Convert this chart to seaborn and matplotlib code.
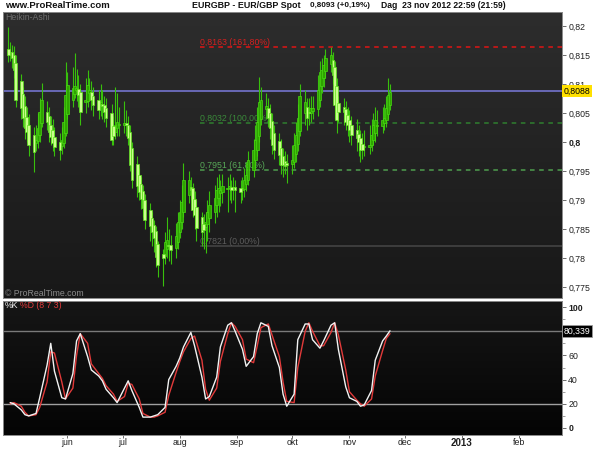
import numpy as np
import pandas as pd
import matplotlib
matplotlib.use("Agg")
import matplotlib.pyplot as plt
import matplotlib.dates as mdates
from matplotlib.colors import LinearSegmentedColormap
from matplotlib.ticker import FixedLocator, FuncFormatter
import seaborn as sns

sns.set_style("dark")
plt.rcParams["font.family"] = ["Liberation Sans", "DejaVu Sans"]

# ---------------- data ----------------
start_date = "2012-04-30"
end_date = "2012-11-23"

# Heikin-Ashi candles, EUR/GBP in pips (price * 10000)
ha_open = [8160, 8155, 8155, 8150, 8137, 8105, 8082, 8062, 8043, 8030,
           8012, 7998, 8001, 8012, 8032, 8052, 8044, 8030, 8020, 8009,
           8000, 7993, 7998, 8016, 8048, 8073, 8083, 8090, 8092, 8086,
           8069, 8071, 8084, 8087, 8080, 8072, 8064, 8066, 8064, 8058,
           8050, 8027, 8018, 8024, 8030, 8030, 8032, 8030, 8018, 7989,
           7962, 7943, 7928, 7915, 7900, 7883, 7869, 7857, 7846, 7824,
           7806, 7803, 7815, 7823, 7822, 7818, 7828, 7845, 7862, 7880,
           7908, 7922, 7920, 7902, 7888, 7870, 7858, 7853, 7858, 7869,
           7880, 7892, 7904, 7912, 7914, 7919, 7920, 7922, 7920, 7922,
           7920, 7917, 7919, 7927, 7935, 7952, 7969, 7986, 8010, 8040,
           8056, 8059, 8050, 8037, 8016, 8001, 7990, 7975, 7968, 7964,
           7962, 7966, 7980, 7996, 8019, 8050, 8060, 8051, 8050, 8054,
           8056, 8073, 8097, 8110, 8122, 8134, 8142, 8129, 8096, 8067,
           8060, 8056, 8046, 8038, 8030, 8021, 8014, 8007, 7996, 7991,
           7992, 7994, 8003, 8016, 8027, 8028, 8033, 8038, 8048, 8064]
ha_close = [8150, 8155, 8145, 8124, 8073, 8059, 8042, 8024, 8017, 7995,
            7983, 8004, 8024, 8052, 8073, 8035, 8017, 8009, 7998, 7992,
            7986, 8004, 8035, 8081, 8098, 8093, 8097, 8093, 8081, 8052,
            8073, 8098, 8090, 8073, 8064, 8055, 8069, 8062, 8052, 8042,
            8004, 8010, 8029, 8035, 8031, 8033, 8029, 8007, 7960, 7935,
            7924, 7914, 7902, 7886, 7866, 7855, 7845, 7835, 7802, 7788,
            7800, 7828, 7831, 7821, 7814, 7838, 7862, 7880, 7897, 7935,
            7935, 7917, 7883, 7874, 7852, 7845, 7848, 7862, 7880, 7892,
            7904, 7917, 7921, 7917, 7924, 7921, 7924, 7917, 7923, 7917,
            7914, 7921, 7935, 7943, 7969, 7986, 8004, 8035, 8069, 8073,
            8062, 8042, 8024, 7995, 7986, 7978, 7960, 7960, 7959, 7960,
            7969, 7995, 8012, 8042, 8080, 8069, 8042, 8050, 8059, 8059,
            8090, 8121, 8124, 8133, 8145, 8150, 8116, 8064, 8038, 8052,
            8052, 8035, 8029, 8021, 8012, 8007, 8000, 7986, 7986, 7993,
            7995, 8012, 8029, 8038, 8029, 8038, 8042, 8059, 8081, 8086]
ha_high = [8198, 8172, 8168, 8165, 8150, 8118, 8095, 8080, 8060, 8048,
           8025, 8030, 8050, 8075, 8102, 8070, 8060, 8045, 8040, 8025,
           8015, 8025, 8060, 8138, 8120, 8130, 8154, 8125, 8115, 8100,
           8110, 8124, 8110, 8105, 8095, 8090, 8100, 8090, 8080, 8075,
           8065, 8045, 8095, 8085, 8060, 8070, 8055, 8045, 8030, 8000,
           7975, 7955, 7940, 7925, 7910, 7895, 7880, 7865, 7855, 7830,
           7815, 7845, 7871, 7850, 7840, 7860, 7880, 7900, 7925, 7964,
           7950, 7940, 7930, 7915, 7900, 7880, 7875, 7880, 7900, 7915,
           7925, 7940, 7945, 7935, 7945, 7940, 7945, 7935, 7940, 7935,
           7935, 7940, 7955, 7965, 7985, 8005, 8030, 8060, 8112, 8095,
           8085, 8075, 8065, 8050, 8030, 8015, 8005, 7990, 7985, 7980,
           7995, 8015, 8035, 8065, 8100, 8090, 8075, 8075, 8080, 8080,
           8115, 8140, 8145, 8150, 8160, 8164, 8155, 8140, 8110, 8080,
           8075, 8070, 8060, 8055, 8045, 8040, 8030, 8020, 8015, 8020,
           8030, 8040, 8050, 8060, 8055, 8060, 8065, 8080, 8111, 8100]
ha_low = [8138, 8140, 8128, 8110, 8060, 8040, 8025, 8005, 8000, 7975,
          7948, 7985, 7990, 8000, 8025, 8020, 8000, 7995, 7985, 7975,
          7969, 7980, 7990, 8010, 8040, 8060, 8075, 8070, 8060, 8030,
          8050, 8060, 8070, 8055, 8045, 8040, 8045, 8040, 8035, 8025,
          7995, 7995, 8005, 8010, 8010, 8015, 8010, 7995, 7950, 7920,
          7905, 7900, 7885, 7870, 7850, 7830, 7820, 7810, 7785, 7767,
          7752, 7790, 7800, 7795, 7790, 7800, 7815, 7835, 7850, 7870,
          7895, 7900, 7870, 7850, 7830, 7820, 7815, 7809, 7830, 7845,
          7860, 7870, 7880, 7890, 7895, 7880, 7900, 7895, 7900, 7880,
          7895, 7900, 7905, 7915, 7925, 7940, 7955, 7975, 8000, 8030,
          8040, 8025, 8005, 7980, 7970, 7960, 7945, 7940, 7945, 7930,
          7945, 7955, 7965, 7985, 8010, 8030, 8020, 8030, 8035, 8040,
          8045, 8060, 8085, 8095, 8110, 8120, 8100, 8040, 8015, 8035,
          8030, 8020, 8010, 8000, 7995, 7985, 7975, 7965, 7970, 7975,
          7980, 7985, 7995, 8000, 8010, 8015, 8020, 8025, 8040, 8055]

# Stochastic (8 7 3), sampled every second trading day
stoch_k = [21, 20, 15, 11, 10, 12, 25, 52, 70, 47,
           25, 24, 45, 72, 78, 59, 48, 43, 39, 32,
           25, 21, 33, 39, 31, 17, 9, 9, 10, 11,
           17, 40, 51, 58, 67, 79, 68, 42, 24, 26,
           42, 67, 85, 87, 80, 65, 51, 59, 78, 87,
           84, 68, 50, 28, 18, 28, 73, 86, 86, 73,
           66, 72, 85, 87, 65, 34, 25, 22, 18, 19,
           31, 56, 72, 76, 80.339]
stoch_d = [20, 21, 18, 13, 10, 11, 17, 38, 63, 62,
           38, 24, 33, 60, 78, 70, 53, 45, 41, 35,
           28, 22, 26, 37, 36, 24, 12, 9, 9, 10,
           13, 27, 46, 55, 63, 74, 76, 56, 32, 23,
           33, 55, 78, 87, 84, 73, 57, 54, 68, 83,
           86, 77, 59, 38, 22, 21, 50, 80, 87, 80,
           68, 68, 79, 87, 77, 48, 30, 23, 20, 18,
           24, 43, 64, 74, 78]
stoch_levels = [80, 20]

fib_levels = [0.8163, 0.8032, 0.7951, 0.7821]
fib_labels = ["0,8163 (161,80%)", "0,8032 (100,00%)", "0,7951 (61,80%)", "0,7821 (0,00%)"]
fib_start = "2012-08-12"
last_price = 0.8088
last_price_label = "0,8088"
last_stoch_label = "80,339"

price_ticks = [0.775, 0.78, 0.785, 0.79, 0.795, 0.80, 0.805, 0.81, 0.815, 0.82]
stoch_ticks = [0, 20, 40, 60, 80, 100]
month_ticks = ["2012-06-01", "2012-07-01", "2012-08-01", "2012-09-01", "2012-10-01",
               "2012-11-01", "2012-12-01", "2013-01-01", "2013-02-01"]
month_labels = ["jun", "jul", "aug", "sep", "okt", "nov", "dec", "2013", "feb"]

title_site = "www.ProRealTime.com"
title_instrument = "EURGBP - EUR/GBP Spot"
title_quote = "0,8093 (+0,19%)"
title_period = "Dag  23 nov 2012 22:59 (21:59)"

# ---------------- build ----------------
dates = pd.bdate_range(start_date, end_date)
assert len(dates) == len(ha_open) == len(ha_close) == len(ha_high) == len(ha_low)
stoch_dates = dates[1::2]
assert len(stoch_dates) == len(stoch_k) == len(stoch_d)

o = np.array(ha_open) / 1e4
c = np.array(ha_close) / 1e4
hi = np.array(ha_high) / 1e4
lo = np.array(ha_low) / 1e4
x = mdates.date2num(dates)
up = c >= o

W, H = 600, 450
fig = plt.figure(figsize=(6, 4.5), dpi=100, facecolor="white")
ax1 = fig.add_axes([3 / W, 1 - 298 / H, 559 / W, 286 / H])
ax2 = fig.add_axes([3 / W, 1 - 435 / H, 559 / W, 134 / H])

ref = mdates.date2num(pd.Timestamp("2012-06-01"))
xlim = (ref - 34.9, ref + 268.3)


def gradient(ax, top, bottom):
    cmap = LinearSegmentedColormap.from_list("bg", [bottom, top])
    ax.imshow(np.linspace(0, 1, 256).reshape(-1, 1), extent=(0, 1, 0, 1),
              transform=ax.transAxes, cmap=cmap, aspect="auto", origin="lower",
              zorder=0, interpolation="bilinear")


gradient(ax1, "#2d2d2d", "#181818")
gradient(ax2, "#161616", "#040404")

# candles
ax1.vlines(x, lo, hi, color="#38c00c", lw=0.8, zorder=2)
ax1.bar(x[up], (c - o)[up], bottom=o[up], width=1.4, color="#2ea400",
        edgecolor="#48d812", lw=0.5, zorder=3)
ax1.bar(x[~up], (o - c)[~up], bottom=c[~up], width=1.4, color="#c9ff8c",
        edgecolor="#5ee21c", lw=0.5, zorder=3)

# reference lines
fx = mdates.date2num(pd.Timestamp(fib_start))
fib_line_colors = ["#e01414", "#2f7f2f", "#4e9e4e", "#474747"]
fib_text_colors = ["#d42020", "#3a8a3a", "#58a858", "#5c5c5c"]
fib_styles = [(0, (3, 3)), (0, (3, 3)), (0, (3, 3)), "-"]
for lvl, lab, lc, tc, ls in zip(fib_levels, fib_labels, fib_line_colors, fib_text_colors, fib_styles):
    ax1.hlines(lvl, fx, xlim[1], colors=lc, linestyles=ls, lw=1.1, zorder=1.5)
    ax1.text(fx, lvl, lab, color=tc, fontsize=6.3, va="bottom", ha="left", zorder=1.6)
ax1.axhline(last_price, color="#6d6dc0", lw=1.3, zorder=1.7)

ax1.set_xlim(*xlim)
ax1.set_ylim(0.7731, 0.82241)
ax1.set_xticks([])
ax1.set_xlabel("")
ax1.set_ylabel("")
ax1.yaxis.tick_right()
ax1.yaxis.set_major_locator(FixedLocator(price_ticks))
ax1.yaxis.set_major_formatter(FuncFormatter(lambda v, p: ("%.3f" % v).rstrip("0").replace(".", ",")))
ax1.tick_params(axis="y", which="major", right=True, length=3, width=0.6, color="#555555",
                labelsize=6.3, labelcolor="#202020", pad=1.5)
for lab in ax1.get_yticklabels():
    if lab.get_text() == "0,8":
        lab.set_fontweight("bold")

ax1.text(1.003, last_price, last_price_label, transform=ax1.get_yaxis_transform(),
         fontsize=6.3, va="center", ha="left", color="#000000", zorder=5, clip_on=False,
         bbox=dict(boxstyle="square,pad=0.18", fc="#ffe000", ec="none"))

# stochastic
sns.lineplot(x=stoch_dates, y=stoch_d, ax=ax2, color="#e23a3a", lw=1.0, zorder=3)
sns.lineplot(x=stoch_dates, y=stoch_k, ax=ax2, color="#f2f2f2", lw=1.0, zorder=4)
ax2.axhline(stoch_levels[0], color="#7a7a7a", lw=1.0, zorder=2)
ax2.axhline(stoch_levels[1], color="#a0a0a0", lw=1.0, zorder=2)

ax2.set_xlim(*xlim)
ax2.set_ylim(-5.8, 105)
ax2.set_xlabel("")
ax2.set_ylabel("")
ax2.xaxis.label.set_visible(False)
ax2.yaxis.label.set_visible(False)
ax1.xaxis.label.set_visible(False)
ax1.yaxis.label.set_visible(False)
ax2.yaxis.tick_right()
ax2.yaxis.set_major_locator(FixedLocator(stoch_ticks))
# the 80 label sits under the last-value box, as in the original
ax2.yaxis.set_major_formatter(FuncFormatter(lambda v, p: "" if v == 80 else "%d" % v))
ax2.yaxis.set_minor_locator(FixedLocator([10, 30, 50, 70, 90]))
ax2.tick_params(axis="y", which="major", right=True, length=3, width=0.6, color="#555555",
                labelsize=6.3, labelcolor="#202020", pad=1.5)
ax2.tick_params(axis="y", which="minor", right=True, length=2, width=0.5, color="#777777")
for lab in ax2.get_yticklabels():
    if lab.get_text() in ("0", "100"):
        lab.set_fontweight("bold")
ax2.text(1.003, 80.339, last_stoch_label, transform=ax2.get_yaxis_transform(),
         fontsize=6.3, va="center", ha="left", color="#ffffff", zorder=5, clip_on=False,
         bbox=dict(boxstyle="square,pad=0.2", fc="#000000", ec="#9a9a9a", lw=0.6))

ax2.set_xticks(mdates.date2num(pd.to_datetime(month_ticks)))
ax2.set_xticklabels(month_labels)
ax2.tick_params(axis="x", bottom=True, length=2, width=0.6, color="#555555",
                labelsize=6.3, labelcolor="#202020", pad=0.5)
for lab in ax2.get_xticklabels():
    if lab.get_text() == "2013":
        lab.set_fontweight("bold")
        lab.set_fontsize(7)

for ax in (ax1, ax2):
    ax.grid(False)
    for s in ax.spines.values():
        s.set_visible(True)
        s.set_color("#8a8a8a")
        s.set_linewidth(0.7)

# texts
ty = 1 - 5.5 / H
fig.text(5 / W, ty, title_site, fontsize=6.8, fontweight="bold", va="center", ha="left", color="#111111")
fig.text(192 / W, ty, title_instrument, fontsize=6.4, fontweight="bold", va="center", ha="left", color="#111111")
fig.text(310 / W, ty, title_quote, fontsize=5.8, fontweight="bold", va="center", ha="left", color="#111111")
fig.text(381 / W, ty, title_period, fontsize=6.2, fontweight="bold", va="center", ha="left", color="#111111")
fig.text(5 / W, 1 - 18 / H, "Heikin-Ashi", fontsize=6.3, va="center", ha="left", color="#6e6e6e")
fig.text(5 / W, 1 - 293 / H, "\u00a9 ProRealTime.com", fontsize=6.3, va="center", ha="left", color="#8a8a8a")
fig.text(5 / W, 1 - 306 / H, "%K", fontsize=6.3, va="center", ha="left", color="#f0f0f0")
fig.text(20 / W, 1 - 306 / H, "%D (8 7 3)", fontsize=6.3, va="center", ha="left", color="#e03a3a")

fig.savefig("out.png", dpi=100, facecolor="white")
